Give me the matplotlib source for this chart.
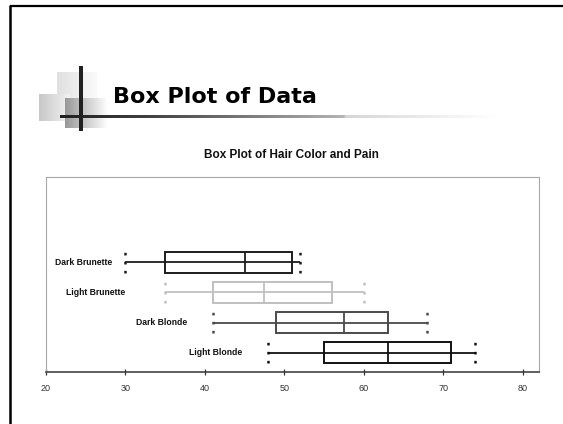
"""
Slide with a horizontal box plot of hair colour vs pain
"""
import numpy as np
import matplotlib
matplotlib.use('Agg')
import matplotlib.pyplot as plt
from matplotlib.patches import Rectangle
from matplotlib.colors import to_rgb, LinearSegmentedColormap

#----------------------------DATA-------------------------------#
categories = ['Light Blonde', 'Dark Blonde', 'Light Brunette', 'Dark Brunette']
whisker_low = [48, 41, 35, 30]
q1 = [55, 49, 41, 35]
median = [63, 57.5, 47.5, 45]
q3 = [71, 63, 56, 51]
whisker_high = [74, 68, 60, 52]
label_x = [44.7, 37.8, 30.0, 28.3]   # where each category label ends
colors = ['#111111', '#4a4a4a', '#c0c0c0', '#1c1c1c']
x_ticks = [20, 30, 40, 50, 60, 70, 80]
slide_title = 'Box Plot of Data'
chart_title = 'Box Plot of Hair Color and Pain'
#---------------------------------------------------------------#
plt.rcParams['lines.scale_dashes'] = False
W, H = 563, 424
fig = plt.figure(figsize=(W / 100, H / 100), dpi=100)

# overlay in pixel units for the slide decoration
deco = fig.add_axes([0, 0, 1, 1], zorder=0)
deco.set_axis_off()


def grad_rect(x0, x1, y0, y1, c0, c1):
    t = np.linspace(0, 1, 64)[:, None]
    row = np.array(to_rgb(c0)) * (1 - t) + np.array(to_rgb(c1)) * t
    deco.imshow(row[None], extent=(x0, x1, y1, y0), aspect='auto',
                interpolation='bilinear')


grad_rect(56.7, 96.7, 72.7, 100, '#e0e0e0', '#fafafa')
grad_rect(39, 70, 94, 121, '#c8c8c8', '#f2f2f2')
grad_rect(65, 108, 99, 128.5, '#989898', '#ffffff')

# gradient underline
stops = [(0.0, '#202020'), (0.2, '#404040'), (0.65, '#b4b4b4'),
         (0.655, '#d6d6d6'), (1.0, '#ffffff')]
cmap = LinearSegmentedColormap.from_list('uline', stops)
deco.imshow(np.linspace(0, 1, 256)[None, :], cmap=cmap, extent=(60, 497, 117.6, 114.8),
            aspect='auto', interpolation='bilinear')
deco.add_patch(Rectangle((78.9, 66), 4.3, 65, color='#202020', lw=0))

# slide border
deco.plot([9.5, W], [5.6, 5.6], color='black', lw=1.6, solid_capstyle='butt')
deco.plot([10.2, 10.2], [4.6, H], color='black', lw=1.8, solid_capstyle='butt')

deco.text(113, 103.3, slide_title, fontsize=16, fontweight='bold',
          family='DejaVu Sans', va='baseline', ha='left', color='black')
deco.set_xlim(0, W)
deco.set_ylim(H, 0)

# chart
ax = fig.add_axes([46 / W, (H - 372) / H, (539 - 46) / W, (372 - 177) / H], zorder=1)
ax.set_facecolor('none')
h = 0.68
for i, cat in enumerate(categories):
    y = i + 1
    c = colors[i]
    ax.hlines(y, whisker_low[i], whisker_high[i], color=c, lw=1.3)
    ax.add_patch(Rectangle((q1[i], y - h / 2), q3[i] - q1[i], h, fill=False,
                           ec=c, lw=1.4))
    ax.vlines(median[i], y - h / 2, y + h / 2, color=c, lw=1.3)
    ax.vlines([whisker_low[i], whisker_high[i]], y - h / 2, y + h / 2, color=c,
              lw=1.8, linestyles=[(0, (1.9, 4.6))])
    ax.text(label_x[i], y, cat, ha='right', va='center', fontsize=6.2,
            fontweight='bold', family='Liberation Sans', color='#111111')

ax.set_xlim(20, 82.05)
ax.set_ylim(0.36, 6.83)
ax.set_xticks(x_ticks)
ax.set_xticklabels([str(v) for v in x_ticks], fontsize=6.5,
                   family='Liberation Sans', color='#333333')
ax.set_yticks([])
ax.tick_params(axis='x', direction='inout', length=5, width=0.9, color='#333333', pad=6)
for s in ['left', 'top', 'right']:
    ax.spines[s].set_color('#a8a8a8')
    ax.spines[s].set_linewidth(0.8)
ax.spines['bottom'].set_color('#333333')
ax.spines['bottom'].set_linewidth(1.1)

fig.text(291 / W, 1 - 158.5 / H, chart_title, ha='center', va='baseline', fontsize=8.5,
         fontweight='bold', family='Liberation Sans', color='#111111')

plt.savefig('out.png', dpi=100)
